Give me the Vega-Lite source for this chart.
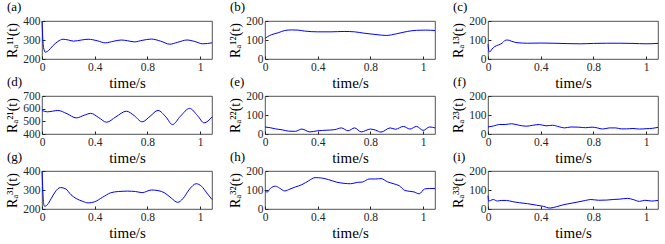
{
  "$schema": "https://vega.github.io/schema/vega-lite/v6.json",
  "background": "white",
  "padding": {"left": 5, "top": 0, "right": 5, "bottom": 0},
  "bounds": "flush",
  "columns": 3,
  "spacing": {"row": 37, "column": 53},
  "config": {
    "view": {"stroke": "#262626", "strokeWidth": 0.8},
    "font": "Liberation Serif",
    "axis": {"domain": false, "grid": false, "labelFont": "Liberation Serif", "labelFontSize": 11.5, "labelColor": "#262626", "labelFlush": false, "labelOverlap": false, "titleFont": "Liberation Serif", "titleFontWeight": "normal", "titleFontSize": 14, "titleColor": "#000000", "tickColor": "#262626", "tickSize": -3, "labelPadding": 5},
    "axisX": {"titlePadding": 3, "titleFontSize": 15},
    "axisY": {"titlePadding": 3},
    "title": {"font": "Liberation Serif", "fontSize": 13, "fontWeight": "normal", "anchor": "start", "frame": "group", "dx": -35, "offset": 1, "color": "#000000"},
    "line": {"color": "#0000ff", "strokeWidth": 1, "interpolate": "monotone", "clip": true}
  },
  "datasets": {
    "a": [{"t":0,"v":400},{"t":0.005,"v":320},{"t":0.012,"v":260},{"t":0.025,"v":236},{"t":0.05,"v":245},{"t":0.08,"v":268},{"t":0.12,"v":292},{"t":0.16,"v":304},{"t":0.2,"v":300},{"t":0.24,"v":294},{"t":0.3,"v":300},{"t":0.35,"v":304},{"t":0.42,"v":296},{"t":0.48,"v":285},{"t":0.54,"v":293},{"t":0.6,"v":300},{"t":0.65,"v":296},{"t":0.7,"v":290},{"t":0.76,"v":298},{"t":0.83,"v":305},{"t":0.9,"v":294},{"t":0.97,"v":278},{"t":1.03,"v":288},{"t":1.1,"v":300},{"t":1.16,"v":292},{"t":1.22,"v":280},{"t":1.29,"v":285}],
    "b": [{"t":0,"v":108},{"t":0.02,"v":118},{"t":0.05,"v":128},{"t":0.1,"v":138},{"t":0.15,"v":150},{"t":0.2,"v":153},{"t":0.25,"v":152},{"t":0.3,"v":147},{"t":0.4,"v":143},{"t":0.5,"v":143},{"t":0.6,"v":145},{"t":0.68,"v":143},{"t":0.75,"v":136},{"t":0.85,"v":128},{"t":0.92,"v":124},{"t":1.0,"v":133},{"t":1.08,"v":145},{"t":1.15,"v":151},{"t":1.22,"v":152},{"t":1.29,"v":150}],
    "c": [{"t":0,"v":78},{"t":0.008,"v":40},{"t":0.015,"v":38},{"t":0.03,"v":52},{"t":0.05,"v":65},{"t":0.08,"v":74},{"t":0.11,"v":85},{"t":0.13,"v":98},{"t":0.15,"v":100},{"t":0.18,"v":93},{"t":0.22,"v":86},{"t":0.3,"v":83},{"t":0.4,"v":84},{"t":0.5,"v":83},{"t":0.6,"v":81},{"t":0.7,"v":80},{"t":0.8,"v":82},{"t":0.9,"v":83},{"t":1.0,"v":83},{"t":1.1,"v":82},{"t":1.2,"v":80},{"t":1.29,"v":82}],
    "d": [{"t":0,"v":586},{"t":0.04,"v":575},{"t":0.08,"v":580},{"t":0.12,"v":586},{"t":0.19,"v":560},{"t":0.26,"v":527},{"t":0.32,"v":548},{"t":0.37,"v":563},{"t":0.43,"v":530},{"t":0.49,"v":493},{"t":0.56,"v":535},{"t":0.64,"v":580},{"t":0.7,"v":545},{"t":0.76,"v":496},{"t":0.82,"v":540},{"t":0.88,"v":586},{"t":0.94,"v":535},{"t":0.99,"v":474},{"t":1.05,"v":540},{"t":1.12,"v":602},{"t":1.18,"v":545},{"t":1.23,"v":488},{"t":1.29,"v":535}],
    "e": [{"t":0,"v":37},{"t":0.04,"v":33},{"t":0.08,"v":27},{"t":0.13,"v":22},{"t":0.18,"v":15},{"t":0.23,"v":14},{"t":0.28,"v":26},{"t":0.34,"v":11},{"t":0.4,"v":17},{"t":0.47,"v":20},{"t":0.53,"v":23},{"t":0.58,"v":32},{"t":0.63,"v":17},{"t":0.68,"v":32},{"t":0.73,"v":11},{"t":0.8,"v":26},{"t":0.84,"v":20},{"t":0.88,"v":10},{"t":0.95,"v":32},{"t":0.99,"v":25},{"t":1.05,"v":40},{"t":1.1,"v":26},{"t":1.15,"v":40},{"t":1.2,"v":19},{"t":1.25,"v":37},{"t":1.29,"v":32}],
    "f": [{"t":0,"v":37},{"t":0.04,"v":42},{"t":0.09,"v":50},{"t":0.13,"v":50},{"t":0.18,"v":54},{"t":0.23,"v":47},{"t":0.29,"v":41},{"t":0.34,"v":46},{"t":0.39,"v":50},{"t":0.44,"v":43},{"t":0.49,"v":46},{"t":0.54,"v":38},{"t":0.58,"v":32},{"t":0.63,"v":37},{"t":0.69,"v":36},{"t":0.74,"v":33},{"t":0.79,"v":36},{"t":0.83,"v":32},{"t":0.87,"v":26},{"t":0.92,"v":32},{"t":0.97,"v":32},{"t":1.01,"v":27},{"t":1.05,"v":27},{"t":1.1,"v":29},{"t":1.15,"v":26},{"t":1.2,"v":28},{"t":1.25,"v":30},{"t":1.29,"v":35}],
    "g": [{"t":0,"v":400},{"t":0.006,"v":300},{"t":0.012,"v":230},{"t":0.02,"v":214},{"t":0.04,"v":222},{"t":0.07,"v":255},{"t":0.1,"v":290},{"t":0.14,"v":313},{"t":0.18,"v":306},{"t":0.22,"v":275},{"t":0.26,"v":255},{"t":0.31,"v":240},{"t":0.35,"v":232},{"t":0.4,"v":238},{"t":0.46,"v":262},{"t":0.52,"v":285},{"t":0.58,"v":292},{"t":0.65,"v":294},{"t":0.71,"v":292},{"t":0.76,"v":286},{"t":0.83,"v":300},{"t":0.88,"v":297},{"t":0.93,"v":285},{"t":0.98,"v":258},{"t":1.03,"v":235},{"t":1.07,"v":255},{"t":1.12,"v":305},{"t":1.17,"v":333},{"t":1.21,"v":320},{"t":1.25,"v":285},{"t":1.29,"v":250}],
    "h": [{"t":0,"v":100},{"t":0.015,"v":88},{"t":0.04,"v":108},{"t":0.08,"v":120},{"t":0.11,"v":110},{"t":0.15,"v":95},{"t":0.19,"v":105},{"t":0.23,"v":116},{"t":0.28,"v":128},{"t":0.33,"v":148},{"t":0.38,"v":165},{"t":0.43,"v":163},{"t":0.48,"v":155},{"t":0.54,"v":142},{"t":0.6,"v":135},{"t":0.65,"v":133},{"t":0.7,"v":140},{"t":0.74,"v":142},{"t":0.79,"v":158},{"t":0.84,"v":158},{"t":0.88,"v":160},{"t":0.93,"v":143},{"t":0.98,"v":132},{"t":1.02,"v":122},{"t":1.06,"v":98},{"t":1.1,"v":93},{"t":1.13,"v":90},{"t":1.17,"v":80},{"t":1.21,"v":105},{"t":1.25,"v":108},{"t":1.29,"v":108}],
    "i": [{"t":0,"v":70},{"t":0.005,"v":42},{"t":0.02,"v":45},{"t":0.04,"v":50},{"t":0.07,"v":42},{"t":0.1,"v":45},{"t":0.14,"v":45},{"t":0.19,"v":38},{"t":0.24,"v":33},{"t":0.3,"v":28},{"t":0.37,"v":20},{"t":0.42,"v":14},{"t":0.47,"v":5},{"t":0.52,"v":12},{"t":0.57,"v":22},{"t":0.63,"v":30},{"t":0.69,"v":38},{"t":0.74,"v":45},{"t":0.78,"v":50},{"t":0.84,"v":46},{"t":0.9,"v":47},{"t":0.95,"v":50},{"t":1.0,"v":52},{"t":1.06,"v":56},{"t":1.1,"v":50},{"t":1.15,"v":40},{"t":1.19,"v":46},{"t":1.24,"v":42},{"t":1.29,"v":45}]
  },
  "concat": [
    {"title": "(a)", "width": 170, "height": 38, "data": {"name": "a"}, "mark": "line",
     "encoding": {"x": {"field": "t", "type": "quantitative", "scale": {"domain": [0, 1.29], "nice": false}, "axis": {"values": [0, 0.4, 0.8, 1.2], "format": "~g", "title": "time/s"}},
                  "y": {"field": "v", "type": "quantitative", "scale": {"domain": [200, 400], "nice": false}, "axis": {"values": [200, 300, 400], "title": "Rₐ¹¹(t)"}}}},
    {"title": "(b)", "width": 170, "height": 38, "data": {"name": "b"}, "mark": "line",
     "encoding": {"x": {"field": "t", "type": "quantitative", "scale": {"domain": [0, 1.29], "nice": false}, "axis": {"values": [0, 0.4, 0.8, 1.2], "format": "~g", "title": "time/s"}},
                  "y": {"field": "v", "type": "quantitative", "scale": {"domain": [0, 200], "nice": false}, "axis": {"values": [0, 100, 200], "title": "Rₐ¹²(t)"}}}},
    {"title": "(c)", "width": 170, "height": 38, "data": {"name": "c"}, "mark": "line",
     "encoding": {"x": {"field": "t", "type": "quantitative", "scale": {"domain": [0, 1.29], "nice": false}, "axis": {"values": [0, 0.4, 0.8, 1.2], "format": "~g", "title": "time/s"}},
                  "y": {"field": "v", "type": "quantitative", "scale": {"domain": [0, 200], "nice": false}, "axis": {"values": [0, 100, 200], "title": "Rₐ¹³(t)"}}}},
    {"title": "(d)", "width": 170, "height": 38, "data": {"name": "d"}, "mark": "line",
     "encoding": {"x": {"field": "t", "type": "quantitative", "scale": {"domain": [0, 1.29], "nice": false}, "axis": {"values": [0, 0.4, 0.8, 1.2], "format": "~g", "title": "time/s"}},
                  "y": {"field": "v", "type": "quantitative", "scale": {"domain": [400, 700], "nice": false}, "axis": {"values": [400, 500, 600, 700], "title": "Rₐ²¹(t)"}}}},
    {"title": "(e)", "width": 170, "height": 38, "data": {"name": "e"}, "mark": "line",
     "encoding": {"x": {"field": "t", "type": "quantitative", "scale": {"domain": [0, 1.29], "nice": false}, "axis": {"values": [0, 0.4, 0.8, 1.2], "format": "~g", "title": "time/s"}},
                  "y": {"field": "v", "type": "quantitative", "scale": {"domain": [0, 200], "nice": false}, "axis": {"values": [0, 100, 200], "title": "Rₐ²²(t)"}}}},
    {"title": "(f)", "width": 170, "height": 38, "data": {"name": "f"}, "mark": "line",
     "encoding": {"x": {"field": "t", "type": "quantitative", "scale": {"domain": [0, 1.29], "nice": false}, "axis": {"values": [0, 0.4, 0.8, 1.2], "format": "~g", "title": "time/s"}},
                  "y": {"field": "v", "type": "quantitative", "scale": {"domain": [0, 200], "nice": false}, "axis": {"values": [0, 100, 200], "title": "Rₐ²³(t)"}}}},
    {"title": "(g)", "width": 170, "height": 38, "data": {"name": "g"}, "mark": "line",
     "encoding": {"x": {"field": "t", "type": "quantitative", "scale": {"domain": [0, 1.29], "nice": false}, "axis": {"values": [0, 0.4, 0.8, 1.2], "format": "~g", "title": "time/s"}},
                  "y": {"field": "v", "type": "quantitative", "scale": {"domain": [200, 400], "nice": false}, "axis": {"values": [200, 300, 400], "title": "Rₐ³¹(t)"}}}},
    {"title": "(h)", "width": 170, "height": 38, "data": {"name": "h"}, "mark": "line",
     "encoding": {"x": {"field": "t", "type": "quantitative", "scale": {"domain": [0, 1.29], "nice": false}, "axis": {"values": [0, 0.4, 0.8, 1.2], "format": "~g", "title": "time/s"}},
                  "y": {"field": "v", "type": "quantitative", "scale": {"domain": [0, 200], "nice": false}, "axis": {"values": [0, 100, 200], "title": "Rₐ³²(t)"}}}},
    {"title": "(i)", "width": 170, "height": 38, "data": {"name": "i"}, "mark": "line",
     "encoding": {"x": {"field": "t", "type": "quantitative", "scale": {"domain": [0, 1.29], "nice": false}, "axis": {"values": [0, 0.4, 0.8, 1.2], "format": "~g", "title": "time/s"}},
                  "y": {"field": "v", "type": "quantitative", "scale": {"domain": [0, 200], "nice": false}, "axis": {"values": [0, 100, 200], "title": "Rₐ³³(t)"}}}}
  ]
}
